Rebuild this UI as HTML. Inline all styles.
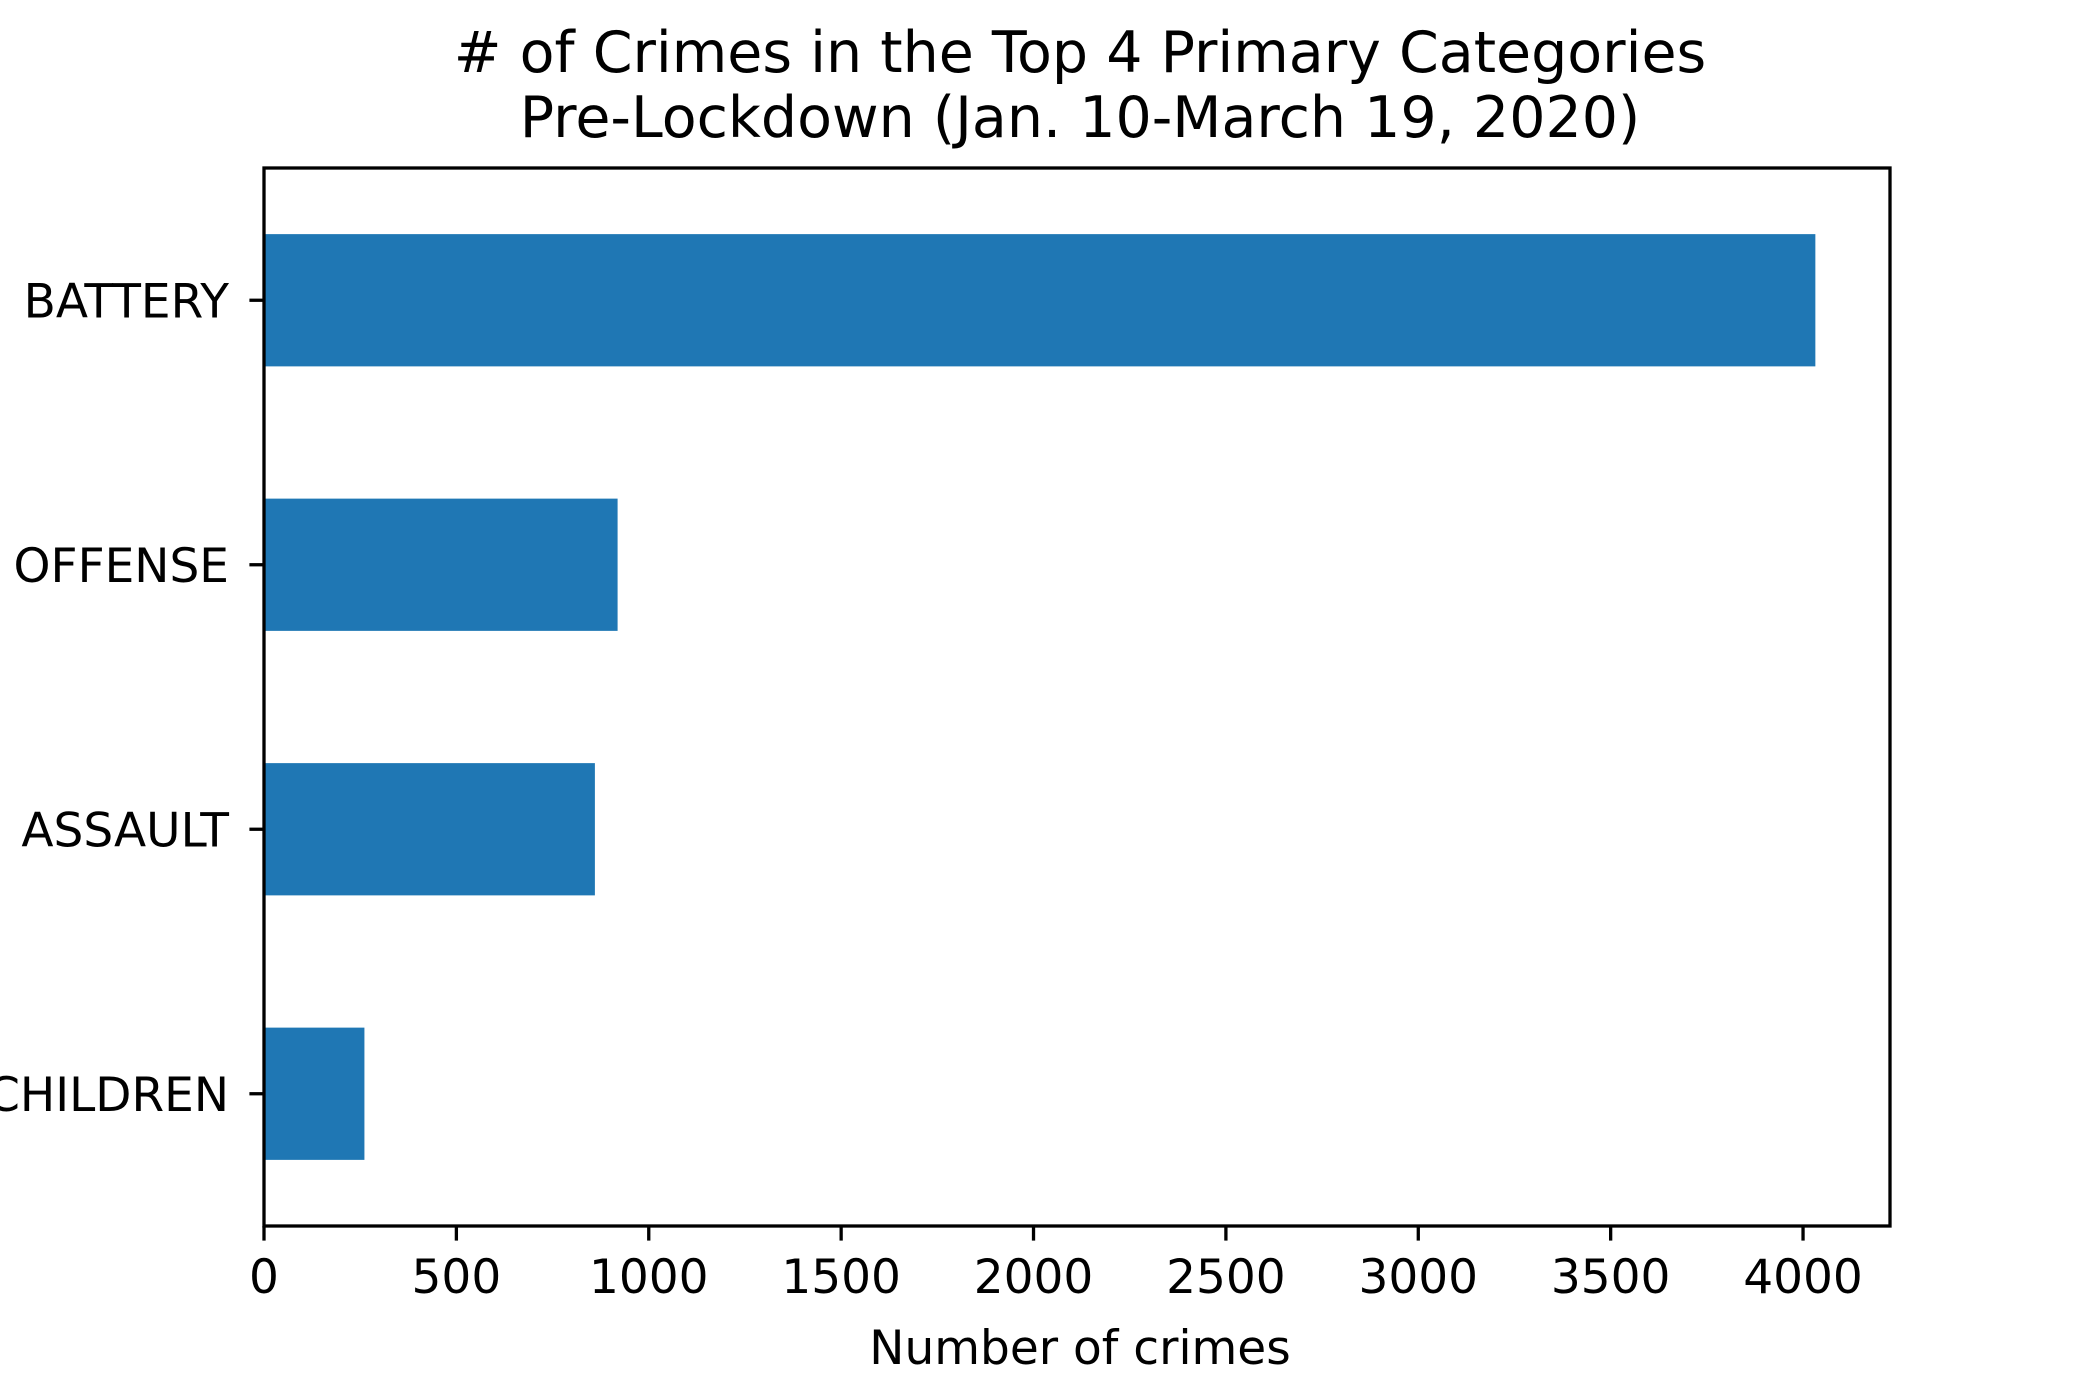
<!DOCTYPE html>
<html><head><meta charset="utf-8"><style>body{margin:0;background:#fff}svg{display:block}</style></head>
<body>
<svg id="chart" width="2100" height="1400" xmlns="http://www.w3.org/2000/svg" font-family="'DejaVu Sans','Liberation Sans',sans-serif">
<rect width="2100" height="1400" fill="#fff"/>
<text x="1080" y="72" font-size="57" text-anchor="middle">
<tspan x="1080"># of Crimes in the Top 4 Primary Categories</tspan><tspan x="1080" y="137">Pre-Lockdown (Jan. 10-March 19, 2020)</tspan></text>
<g id="bars"></g>
<g id="axes"></g>
<text x="1080" y="1364" font-size="47" text-anchor="middle">Number of crimes</text>
</svg>
<script>
const categories = ["BATTERY", "OTHER OFFENSE", "ASSAULT", "OFFENSE INVOLVING CHILDREN"];
const counts = [4032, 919, 860, 261];
const xTicks = [0, 500, 1000, 1500, 2000, 2500, 3000, 3500, 4000];
const xMax = 4226;

const L = 264, R = 1890, T = 168, B = 1226;
const NS = "http://www.w3.org/2000/svg";
const xScale = v => L + (v / xMax) * (R - L);
const band = (B - T) / categories.length;
const yCenter = i => T + band * (i + 0.5);
const barH = band * 0.5;

const bars = document.getElementById('bars');
const axes = document.getElementById('axes');
function mk(tag, attrs, parent) {
  const e = document.createElementNS(NS, tag);
  for (const k in attrs) e.setAttribute(k, attrs[k]);
  parent.appendChild(e);
  return e;
}
categories.forEach((c, i) => {
  const r = mk('rect', {x: xScale(0), y: yCenter(i) - barH / 2, width: xScale(counts[i]) - xScale(0), height: barH, fill: '#1f77b4'}, bars);
  
  
  const t = mk('line', {x1: L - 14.6, x2: L, y1: yCenter(i), y2: yCenter(i), stroke: '#000', 'stroke-width': 3.3}, axes);
  
  
  const lb = mk('text', {x: L - 35, y: yCenter(i) + 17, 'font-size': 47, 'text-anchor': 'end'}, axes);
  lb.textContent = c;
  
  
});
xTicks.forEach(v => {
  const x = xScale(v);
  const t = mk('line', {x1: x, x2: x, y1: B, y2: B + 14.6, stroke: '#000', 'stroke-width': 3.3}, axes);
  
  
  const lb = mk('text', {x: x, y: B + 67, 'font-size': 47, 'text-anchor': 'middle'}, axes);
  lb.textContent = v;
  
  
});
const frame = mk('rect', {x: L, y: T, width: R - L, height: B - T, fill: 'none', stroke: '#000', 'stroke-width': 3.3}, axes);


</script>
</body></html>
